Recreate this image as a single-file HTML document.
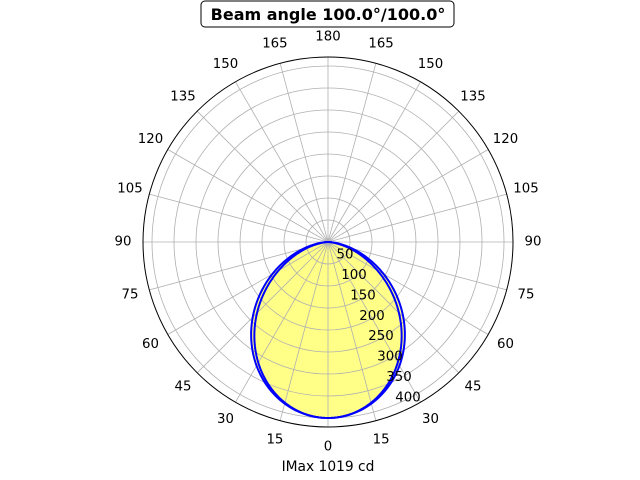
<!DOCTYPE html>
<html><head><meta charset="utf-8"><style>
html,body{margin:0;padding:0;background:#fff;}
svg{display:block;font-family:"DejaVu Sans","Liberation Sans",sans-serif;}
</style></head><body>
<svg id="s" width="640" height="480" xmlns="http://www.w3.org/2000/svg">
<rect x="0" y="0" width="640" height="480" fill="#fff"/>
<g id="fill"></g>
<g id="grid" stroke="#b0b0b0" stroke-width="0.8" fill="none"></g>
<g id="curves" fill="none" stroke="#0000ff" stroke-width="2"></g>
<circle cx="328" cy="242" r="185" fill="none" stroke="#000" stroke-width="1"/>
<g id="labels" font-size="13.3" fill="#000" text-anchor="middle" dominant-baseline="central"></g>
<rect x="201" y="1" width="253" height="26" rx="4" fill="#fff" stroke="#000" stroke-width="1"/>
<text x="328" y="20" font-size="16" font-weight="bold" text-anchor="middle">Beam angle 100.0°/100.0°</text>
<text x="328" y="471" font-size="13.8" text-anchor="middle">IMax 1019 cd</text>
</svg>
<script>
const NS="http://www.w3.org/2000/svg",cx=328,cy=242,k=0.44;
function el(p,t,a,txt){const e=document.createElementNS(NS,t);for(const q in a)e.setAttribute(q,a[q]);if(txt!==undefined)e.textContent=txt;document.getElementById(p).appendChild(e);return e;}
function pt(th,r){const a=th*Math.PI/180;return[cx+r*Math.sin(a),cy+r*Math.cos(a)];}
function curve(n,R){let d="";for(let t=-90;t<=90;t+=1){const c=Math.cos(t*Math.PI/180);const r=R*k*Math.pow(Math.max(c,0),n);const p=pt(t,r);d+=(d?"L":"M")+p[0].toFixed(2)+","+p[1].toFixed(2);}return d+"Z";}
el("fill","path",{d:curve(1.45,400),fill:"#ffff88",stroke:"none"});
for(let v=50;v<=400;v+=50)el("grid","circle",{cx:cx,cy:cy,r:v*k});
for(let a=0;a<360;a+=15){const p=pt(a,185);el("grid","line",{x1:cx,y1:cy,x2:p[0],y2:p[1]});}
el("curves","path",{d:curve(1.45,400)});
el("curves","path",{d:curve(1.62,400)});
for(let a=0;a<360;a+=15){const p=pt(a,205);let lab=a<=180?a:360-a;el("labels","text",{x:p[0].toFixed(1),y:p[1].toFixed(1)},String(lab));}
for(let i=0;i<8;i++){const v=50*(i+1);const x=345+(408-345)*i/7,y=255+(398-255)*i/7;el("labels","text",{x:x,y:y},String(v));}
</script>
</body></html>
